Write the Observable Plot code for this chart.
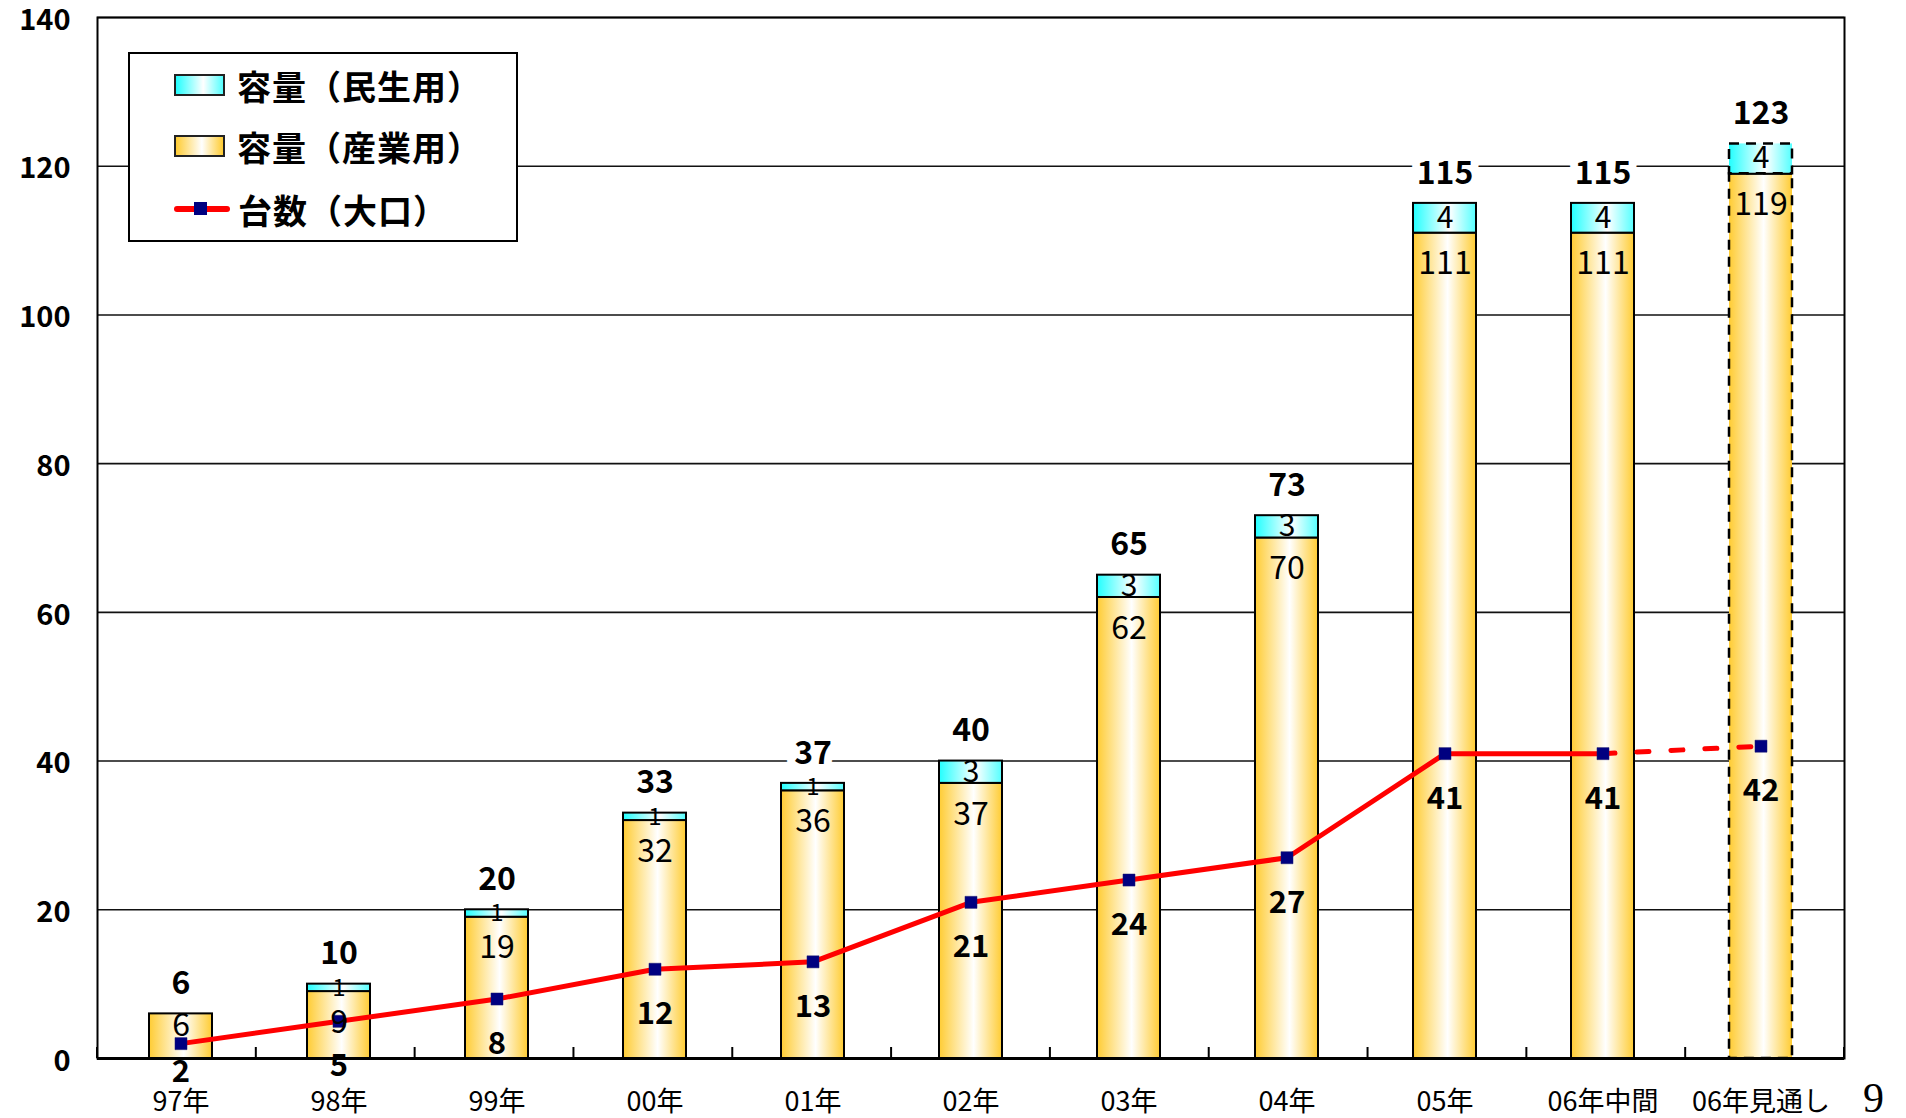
<!DOCTYPE html>
<html>
<head>
<meta charset="utf-8">
<script src="https://cdn.jsdelivr.net/npm/d3@7"></script>
<script src="https://cdn.jsdelivr.net/npm/@observablehq/plot@0.6"></script>
<style>
  html, body { margin: 0; padding: 0; background: #fff; }
  #wrap { position: relative; width: 1906px; height: 1118px; font-family: "Noto Sans CJK JP", sans-serif; }
  #wrap svg { display: block; }
  .legend {
    position: absolute; left: 128px; top: 52px; width: 390px; height: 190px;
    background: #fff; border: 2px solid #000; box-sizing: border-box;
  }
  .legend .row { position: absolute; left: 44px; height: 40px; display: flex; align-items: center; }
  .legend .sw { width: 51px; height: 22px; border: 2px solid #222; box-sizing: border-box; margin-right: 12px; }
  .legend .sw.res { background: linear-gradient(to right, #22ffff 0%, #ffffff 58%, #55ffff 100%); }
  .legend .sw.ind { background: linear-gradient(to right, #ffcc33 0%, #ffffff 55%, #ffcc33 100%); }
  .legend .ln { width: 56px; height: 22px; position: relative; margin-right: 8px; }
  .legend .ln::before { content: ""; position: absolute; left: 0; right: 0; top: 8px; height: 6px; background: #ff0000; border-radius: 3px; }
  .legend .ln::after { content: ""; position: absolute; left: 20px; top: 4px; width: 13px; height: 13px; background: #000080; }
  .legend .txt { font-size: 34px; font-weight: 700; color: #000; letter-spacing: 1px; }
  .page { position: absolute; left: 1863px; top: 1077px; font-family: "Liberation Serif", "DejaVu Serif", serif; font-size: 42px; line-height: 1; color: #000; }
</style>
</head>
<body>
<div id="wrap"></div>
<script>
// Yearly installed capacity, split by sector, with the count of large units.
const years = ["97年", "98年", "99年", "00年", "01年", "02年", "03年", "04年", "05年", "06年中間", "06年見通し"];
const industrial = [6, 9, 19, 32, 36, 37, 62, 70, 111, 111, 119];   // 容量(産業用)
const residential = [0, 1, 1, 1, 1, 3, 3, 3, 4, 4, 4];               // 容量(民生用)
const totals = [6, 10, 20, 33, 37, 40, 65, 73, 115, 115, 123];
const units = [2, 5, 8, 12, 13, 21, 24, 27, 41, 41, 42];             // 台数(大口)
const yTicks = [0, 20, 40, 60, 80, 100, 120, 140];

const rows = years.map((year, i) => ({
  year,
  ind: industrial[i],
  res: residential[i],
  total: totals[i],
  units: units[i],
  forecast: i === years.length - 1
}));
const actual = rows.filter(d => !d.forecast);
const outlook = rows.filter(d => d.forecast);

const font = '"Noto Sans CJK JP", sans-serif';

// Gradient fills for the bars, injected into the plot's SVG.
function gradientDefs() {
  const defs = d3.create("svg:defs");
  const add = (id, stops) => {
    const g = defs.append("linearGradient").attr("id", id)
      .attr("x1", 0).attr("x2", 1).attr("y1", 0).attr("y2", 0);
    for (const [o, c] of stops) g.append("stop").attr("offset", o).attr("stop-color", c);
  };
  add("gold", [[0, "#ffcc33"], [0.55, "#ffffff"], [1, "#ffcc33"]]);
  add("cyan", [[0, "#22ffff"], [0.58, "#ffffff"], [1, "#55ffff"]]);
  return defs.node();
}

// Small upward ticks on the x axis at the boundaries between categories.
function bandBoundaryTicks(index, scales, values, dims) {
  const left = dims.marginLeft, right = dims.width - dims.marginRight;
  const y0 = scales.y(0);
  const step = (right - left) / years.length;
  const g = d3.create("svg:g").attr("stroke", "#000").attr("stroke-width", 2);
  for (let i = 0; i <= years.length; i++) {
    const bx = left + i * step;
    g.append("line").attr("x1", bx).attr("x2", bx).attr("y1", y0).attr("y2", y0 - 11);
  }
  return g.node();
}

const chart = Plot.plot({
  width: 1906,
  height: 1118,
  marginLeft: 97,
  marginRight: 62,
  marginTop: 17,
  marginBottom: 60,
  style: { fontFamily: font, background: "#fff", color: "#000" },
  x: { type: "band", domain: years, paddingInner: 0.6, paddingOuter: 0.3, label: null },
  y: { domain: [0, 140], label: null },
  marks: [
    gradientDefs,
    Plot.ruleY(yTicks.slice(1), { stroke: "#111", strokeWidth: 1.6 }),
    Plot.frame({ stroke: "#000", strokeWidth: 2 }),
    // industrial segments
    Plot.barY(actual, { x: "year", y1: 0, y2: "ind", fill: "url(#gold)", stroke: "#000", strokeWidth: 2 }),
    Plot.barY(outlook, { x: "year", y1: 0, y2: "ind", fill: "url(#gold)", stroke: "#000", strokeWidth: 2.5, strokeDasharray: "10,7" }),
    // residential segments
    Plot.barY(actual.filter(d => d.res > 0), { x: "year", y1: "ind", y2: d => d.ind + d.res, fill: "url(#cyan)", stroke: "#000", strokeWidth: 2 }),
    Plot.barY(outlook, { x: "year", y1: "ind", y2: d => d.ind + d.res, fill: "url(#cyan)", stroke: "#000", strokeWidth: 2.5, strokeDasharray: "10,7" }),
    Plot.tickY(outlook, { x: "year", y: "ind", stroke: "#000", strokeWidth: 2 }),
    Plot.ruleY([0], { stroke: "#000", strokeWidth: 3 }),
    bandBoundaryTicks,
    // unit count line
    Plot.line(actual, { x: "year", y: "units", stroke: "#ff0000", strokeWidth: 5 }),
    Plot.line(rows.slice(-2), { x: "year", y: "units", stroke: "#ff0000", strokeWidth: 5, strokeDasharray: "12,22" }),
    Plot.dot(rows, { x: "year", y: "units", symbol: "square", r: 6.8, fill: "#000080", stroke: "#1a1a6e", strokeWidth: 0.5 }),
    // value labels
    Plot.text(rows.filter(d => d.ind >= 8), { x: "year", y: "ind", text: d => String(d.ind), dy: 31, fontSize: 32, fill: "#000", letterSpacing: 1 }),
    Plot.text(rows.filter(d => d.ind < 8), { x: "year", y: "ind", text: d => String(d.ind), dy: 12, fontSize: 32, fill: "#000" }),
    Plot.text(rows.filter(d => d.res > 1), { x: "year", y: d => d.ind + d.res / 2, text: d => String(d.res), fontSize: 30, fill: "#000" }),
    Plot.text(rows.filter(d => d.res === 1), { x: "year", y: d => d.ind + d.res / 2, text: d => String(d.res), fontSize: 24, fill: "#000" }),
    Plot.text(rows, { x: "year", y: "total", text: d => String(d.total), dy: -30, fontSize: 32, fontWeight: "bold", fill: "#000", stroke: "#fff", strokeWidth: 16, letterSpacing: 2 }),
    Plot.text(rows.slice(1), { x: "year", y: "units", text: d => String(d.units), dy: 45, fontSize: 31, fontWeight: "bold", fill: "#000", letterSpacing: 1 }),
    Plot.text(rows.slice(0, 1), { x: "year", y: "units", text: d => String(d.units), dy: 28, fontSize: 31, fontWeight: "bold", fill: "#000" }),
    // axes
    Plot.axisY({ ticks: yTicks, tickSize: 0, tickPadding: 27, dy: 3, fontSize: 29, fontWeight: "bold", label: null }),
    Plot.axisX({ tickSize: 0, tickPadding: 33, fontSize: 27, label: null })
  ]
});

const wrap = document.getElementById("wrap");
wrap.appendChild(chart);

// Legend drawn over the upper-left of the plot area.
const legend = document.createElement("div");
legend.className = "legend";
legend.innerHTML = `
  <div class="row" style="top:11px"><span class="sw res"></span><span class="txt">容量（民生用）</span></div>
  <div class="row" style="top:72px"><span class="sw ind"></span><span class="txt">容量（産業用）</span></div>
  <div class="row" style="top:135px"><span class="ln"></span><span class="txt">台数（大口）</span></div>`;
wrap.appendChild(legend);

const page = document.createElement("div");
page.className = "page";
page.textContent = "9";
wrap.appendChild(page);
</script>
</body>
</html>
